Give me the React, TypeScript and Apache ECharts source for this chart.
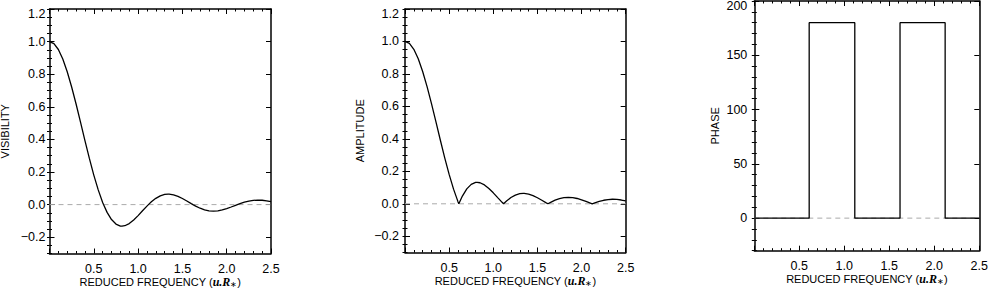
import React, { useEffect, useRef } from "react";
import * as echarts from "echarts";

// Reduced frequency (u.R*) sample positions
const freq = [
  0, 0.05, 0.1, 0.15, 0.2, 0.25, 0.3, 0.35, 0.4, 0.45, 0.5, 0.55, 0.6, 0.6098,
  0.65, 0.7, 0.75, 0.8, 0.8174, 0.85, 0.9, 0.95, 1.0, 1.05, 1.1, 1.1166,
  1.15, 1.2, 1.25, 1.3, 1.3396, 1.35, 1.4, 1.45, 1.5, 1.55, 1.6, 1.6192,
  1.65, 1.7, 1.75, 1.8, 1.85, 1.9, 1.95, 2.0, 2.05, 2.1, 2.1205,
  2.15, 2.2, 2.25, 2.3, 2.35, 2.4, 2.45, 2.5,
];
const visibility = [
  1.0, 0.9877, 0.9515, 0.893, 0.8152, 0.7217, 0.617, 0.5057, 0.3929, 0.2833, 0.1812, 0.0902, 0.0133, 0,
  -0.0477, -0.0919, -0.1195, -0.1315, -0.1323, -0.1296, -0.1164, -0.0947, -0.0676, -0.0381, -0.0091, 0,
  0.0171, 0.0385, 0.0538, 0.0624, 0.0645, 0.0643, 0.0601, 0.0507, 0.0375, 0.0221, 0.006, 0,
  -0.0092, -0.0222, -0.032, -0.038, -0.04, -0.0381, -0.0327, -0.0246, -0.0148, -0.0043, 0,
  0.0059, 0.0149, 0.0218, 0.0262, 0.0279, 0.0268, 0.0233, 0.0177,
];
const amplitude = [
  1.0, 0.9877, 0.9515, 0.893, 0.8152, 0.7217, 0.617, 0.5057, 0.3929, 0.2833, 0.1812, 0.0902, 0.0133, 0,
  0.0477, 0.0919, 0.1195, 0.1315, 0.1323, 0.1296, 0.1164, 0.0947, 0.0676, 0.0381, 0.0091, 0,
  0.0171, 0.0385, 0.0538, 0.0624, 0.0645, 0.0643, 0.0601, 0.0507, 0.0375, 0.0221, 0.006, 0,
  0.0092, 0.0222, 0.032, 0.038, 0.04, 0.0381, 0.0327, 0.0246, 0.0148, 0.0043, 0,
  0.0059, 0.0149, 0.0218, 0.0262, 0.0279, 0.0268, 0.0233, 0.0177,
];
const phaseFreq = [0, 0.6098, 0.6098, 1.1166, 1.1166, 1.6192, 1.6192, 2.1205, 2.1205, 2.5];
const phase = [0, 0, 180, 180, 0, 0, 180, 180, 0, 0];

const visTicks = [-0.2, 0, 0.2, 0.4, 0.6, 0.8, 1.0, 1.2];
const phaseTicks = [0, 50, 100, 150, 200];
const yTitles = ["VISIBILITY", "AMPLITUDE", "PHASE"];

const FONT = "'Liberation Sans', Arial, Helvetica, sans-serif";
const TICK_FS = 12.5;

function range(a: number, b: number, step: number): number[] {
  const out: number[] = [];
  const n = Math.round((b - a) / step);
  for (let i = 0; i <= n; i++) out.push(Math.round((a + i * step) * 1e6) / 1e6);
  return out;
}

export default function App() {
  const ref = useRef<HTMLDivElement>(null);
  useEffect(() => {
    if (!ref.current) return;
    const chart = echarts.init(ref.current, null, { renderer: "svg" });

    const grids = [
      { left: 49.5, top: 9, width: 221.5, height: 244.5 },
      { left: 405, top: 9, width: 220.7, height: 243.5 },
      { left: 754.3, top: 1, width: 225, height: 249.7 },
    ];
    const yRanges = [
      [-0.3, 1.2],
      [-0.3, 1.2],
      [-30, 200],
    ];
    const majors = [visTicks, visTicks, phaseTicks];
    const minors = [range(-0.3, 1.2, 0.05), range(-0.3, 1.2, 0.05), range(-30, 200, 10)];
    const yNameGaps = [39, 40, 34];
    const yLabelMargins = [4, 6, 7];
    const fmts = [
      (v: number) => v.toFixed(1).replace("-", "\u2212"),
      (v: number) => v.toFixed(1).replace("-", "\u2212"),
      (v: number) => String(Math.round(v)).replace("-", "\u2212"),
    ];

    const axisLineStyle = { color: "#000", width: 1.5 };
    const xAxes: any[] = [];
    const yAxes: any[] = [];
    const series: any[] = [];

    grids.forEach((g, i) => {
      const common = {
        gridIndex: i,
        type: "value",
        min: 0,
        max: 2.5,
        interval: 0.5,
        splitLine: { show: false },
        axisLine: { show: true, onZero: false, lineStyle: axisLineStyle },
        axisTick: { show: true, inside: true, length: 5, lineStyle: { color: "#000", width: 1 } },
        minorTick: { show: true, splitNumber: 5, length: 2.5, lineStyle: { color: "#000", width: 1 } },
      };
      xAxes.push({
        ...common,
        position: "bottom",
        axisLabel: {
          showMinLabel: false,
          margin: 8.5,
          color: "#000",
          fontSize: TICK_FS,
          fontFamily: FONT,
          formatter: (v: number) => v.toFixed(1),
        },
        name: "{n|REDUCED FREQUENCY (}{i|u.R}{s|\u2217}{n|)}",
        nameLocation: "middle",
        nameGap: 21.5,
        nameMoveOverlap: false,
        nameTextStyle: {
          color: "#000",
          fontSize: 11,
          fontFamily: FONT,
          lineHeight: 13,
          rich: {
            n: { fontSize: 11, fontFamily: FONT, color: "#000", lineHeight: 13 },
            i: {
              fontSize: 12,
              fontFamily: "'Liberation Serif', 'DejaVu Serif', serif",
              fontStyle: "italic",
              fontWeight: "bold",
              color: "#000",
              lineHeight: 13,
            },
            s: { fontSize: 8, color: "#000", verticalAlign: "bottom", lineHeight: 10 },
          },
        },
      });
      xAxes.push({ ...common, position: "top", axisLabel: { show: false } });

      const [yMin, yMax] = yRanges[i];
      const fmt = fmts[i];
      const baseY = {
        gridIndex: i,
        type: "value",
        min: yMin,
        max: yMax,
        splitLine: { show: false },
        minorTick: { show: false },
      };
      const majorTick = {
        show: true,
        inside: true,
        length: 5,
        customValues: majors[i],
        lineStyle: { color: "#000", width: 1 },
      };
      const minorTick = {
        show: true,
        inside: true,
        length: 2.5,
        customValues: minors[i],
        lineStyle: { color: "#000", width: 1 },
      };
      yAxes.push({
        ...baseY,
        position: "left",
        axisLine: { show: true, onZero: false, lineStyle: axisLineStyle },
        axisTick: majorTick,
        axisLabel: {
          show: true,
          customValues: majors[i],
          margin: yLabelMargins[i],
          color: "#000",
          fontSize: TICK_FS,
          fontFamily: FONT,
          formatter: (v: number) =>
            Math.abs(v - yMax) < 1e-9 ? "{t|" + fmt(v) + "}" : fmt(v),
          rich: { t: { fontSize: TICK_FS, fontFamily: FONT, color: "#000", padding: [10, 0, 0, 0] } },
        },
        name: yTitles[i],
        nameLocation: "middle",
        nameGap: yNameGaps[i],
        nameMoveOverlap: false,
        nameTextStyle: { color: "#000", fontSize: 11, fontFamily: FONT },
      });
      yAxes.push({
        ...baseY,
        position: "left",
        axisLine: { show: false },
        axisTick: minorTick,
        axisLabel: { show: false },
      });
      yAxes.push({
        ...baseY,
        position: "right",
        axisLine: { show: true, onZero: false, lineStyle: axisLineStyle },
        axisTick: majorTick,
        axisLabel: { show: false },
      });
      yAxes.push({
        ...baseY,
        position: "right",
        axisLine: { show: false },
        axisTick: minorTick,
        axisLabel: { show: false },
      });

      series.push({
        type: "line",
        xAxisIndex: 2 * i,
        yAxisIndex: 4 * i,
        data: [
          [0, 0],
          [2.5, 0],
        ],
        symbol: "none",
        silent: true,
        z: 1,
        lineStyle: { color: "#aaa", width: 1, type: [5, 4] },
      });
    });

    series.push({
      type: "line",
      xAxisIndex: 0,
      yAxisIndex: 0,
      data: freq.map((x, k) => [x, visibility[k]]),
      symbol: "none",
      z: 3,
      lineStyle: { color: "#000", width: 1.3 },
    });
    series.push({
      type: "line",
      xAxisIndex: 2,
      yAxisIndex: 4,
      data: freq.map((x, k) => [x, amplitude[k]]),
      symbol: "none",
      z: 3,
      lineStyle: { color: "#000", width: 1.3 },
    });
    series.push({
      type: "line",
      xAxisIndex: 4,
      yAxisIndex: 8,
      data: phaseFreq.map((x, k) => [x, phase[k]]),
      symbol: "none",
      z: 3,
      lineStyle: { color: "#000", width: 1.3 },
    });

    chart.setOption({
      animation: false,
      backgroundColor: "#fff",
      grid: grids.map((g) => ({ ...g, containLabel: false, outerBoundsMode: "none" })),
      xAxis: xAxes,
      yAxis: yAxes,
      series,
    });
    return () => chart.dispose();
  }, []);

  return (
    <div
      ref={ref}
      style={{ position: "fixed", left: 0, top: 0, width: 989, height: 288, background: "#fff" }}
    />
  );
}
